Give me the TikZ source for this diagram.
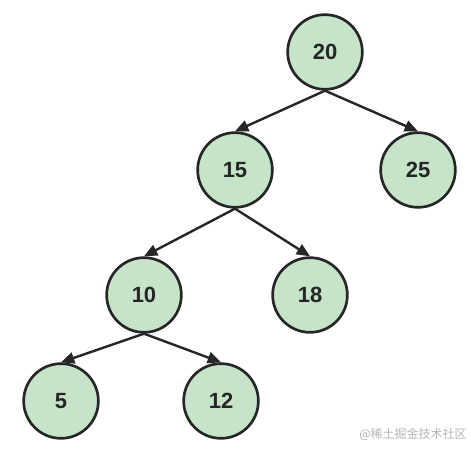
\documentclass[tikz,border=0pt]{standalone}
\usepackage{fontspec}
\setmainfont{Liberation Sans}
\newfontfamily\cjk{Noto Sans CJK SC}
\usetikzlibrary{arrows.meta,positioning}
\definecolor{leaf}{HTML}{C6E5C8}
\definecolor{ink}{HTML}{262626}
\definecolor{muted}{HTML}{B4B4B4}

\begin{document}
\begin{tikzpicture}[x=0.75pt,y=-0.75pt,
    treenode/.style={circle,draw=ink,line width=2pt,fill=leaf,minimum size=56pt,
                     inner sep=0pt,font=\fontsize{16.5}{18}\selectfont\bfseries,text=ink},
    edge/.style={draw=ink,line width=1.8pt,-{Triangle[length=10pt,width=8.5pt]}}]
  \useasboundingbox (0,0) rectangle (471,452);
  % the tree
  \node[treenode] (n20) at (325,52) {20};
  \node[treenode] (n15) at (235,170) {15};
  \node[treenode] (n25) at (418,170) {25};
  \node[treenode] (n10) at (144,295) {10};
  \node[treenode] (n18) at (310,295) {18};
  \node[treenode] (n5) at (61,401) {5};
  \node[treenode] (n12) at (221,401) {12};
  % links
  \draw[edge] (n20.south) -- (n15.north);
  \draw[edge] (n20.south) -- (n25.north);
  \draw[edge] (n15.south) -- (n10.north);
  \draw[edge] (n15.south) -- (n18.north);
  \draw[edge] (n10.south) -- (n5.north);
  \draw[edge] (n10.south) -- (n12.north);
  % watermark
  \node[font=\cjk\fontsize{9}{10}\selectfont,text=muted] (mark) at (413,434) {@稀土掘金技术社区};
\end{tikzpicture}
\end{document}
